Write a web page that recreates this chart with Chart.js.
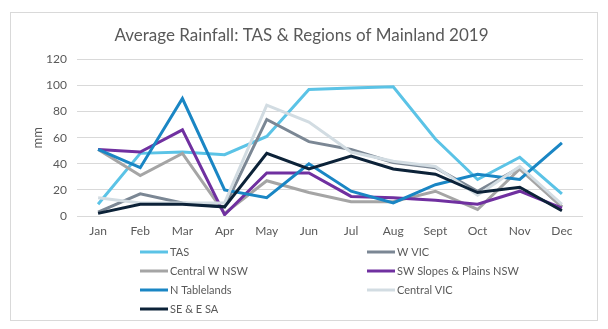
<!DOCTYPE html>
<html>
<head>
<meta charset="utf-8">
<script src="https://cdn.jsdelivr.net/npm/chart.js@4/dist/chart.umd.min.js"></script>
<style>
  html, body { margin: 0; padding: 0; background: #ffffff; }
  #wrap { position: relative; width: 608px; height: 329px; }
  canvas { display: block; }
</style>
</head>
<body>
<div id="wrap"><canvas id="c" width="608" height="329"></canvas></div>
<script>
// Monthly average rainfall (mm), 2019
const months = ['Jan', 'Feb', 'Mar', 'Apr', 'May', 'Jun', 'Jul', 'Aug', 'Sept', 'Oct', 'Nov', 'Dec'];
const yTicks = [0, 20, 40, 60, 80, 100, 120];

const tas          = [9, 48, 49, 47, 61, 97, 98, 99, 59, 28, 45, 17];
const wVic         = [3, 17, 10, 7, 74, 57, 51, 41, 37, 19, 37, 7];
const centralWNsw  = [51, 31, 48, 2, 27, 18, 11, 11, 19, 5, 36, 7];
const swSlopesNsw  = [51, 49, 66, 1, 33, 33, 15, 14, 12, 9, 19, 6];
const nTablelands  = [51, 37, 90, 20, 14, 40, 19, 10, 24, 32, 28, 56];
const centralVic   = [14, 10, 10, 10, 85, 72, 49, 42, 38, 16, 38, 9];
const seESa        = [2, 9, 9, 7, 48, 36, 46, 36, 32, 18, 22, 4];

const seriesNames  = ['TAS', 'W VIC', 'Central W NSW', 'SW Slopes & Plains NSW', 'N Tablelands', 'Central VIC', 'SE & E SA'];
const seriesValues = [tas, wVic, centralWNsw, swSlopesNsw, nTablelands, centralVic, seESa];
const seriesColors = ['#5BC3E6', '#7B8794', '#A5A5A5', '#7030A0', '#1A86C4', '#D2DCE2', '#0C2238'];

const FONT = 'Lato, "Open Sans", sans-serif';
const TEXT = '#595959';

const datasets = seriesNames.map((name, i) => ({
  label: name,
  data: seriesValues[i],
  borderColor: seriesColors[i],
  backgroundColor: seriesColors[i],
  borderWidth: 3,
  pointRadius: 0,
  tension: 0,
  fill: false,
  order: seriesNames.length - i   // later series sit on top
}));

// Outer frame around the whole chart
const framePlugin = {
  id: 'frame',
  beforeDraw(chart) {
    const ctx = chart.ctx;
    ctx.save();
    ctx.fillStyle = '#ffffff';
    ctx.fillRect(0, 0, chart.width, chart.height);
    ctx.strokeStyle = '#D9D9D9';
    ctx.lineWidth = 1;
    ctx.strokeRect(10.5, 12.5, 587, 308);
    ctx.restore();
  }
};

// Two-column legend under the plot
const gridLegendPlugin = {
  id: 'gridLegend',
  afterDraw(chart) {
    const ctx = chart.ctx;
    const colX = [140, 367];
    const rowY0 = 252, rowStep = 19, lineLen = 28;
    ctx.save();
    ctx.font = '11px ' + FONT;
    ctx.textBaseline = 'middle';
    ctx.textAlign = 'left';
    chart.data.datasets.forEach((ds, i) => {
      const x = colX[i % 2];
      const y = rowY0 + Math.floor(i / 2) * rowStep;
      ctx.strokeStyle = ds.borderColor;
      ctx.lineWidth = 3;
      ctx.beginPath();
      ctx.moveTo(x, y);
      ctx.lineTo(x + lineLen, y);
      ctx.stroke();
      ctx.fillStyle = TEXT;
      ctx.fillText(ds.label, x + lineLen + 2, y + 0.5);
    });
    ctx.restore();
  }
};

new Chart(document.getElementById('c'), {
  type: 'line',
  data: { labels: months, datasets },
  plugins: [framePlugin, gridLegendPlugin],
  options: {
    responsive: false,
    animation: false,
    events: [],
    layout: { padding: { left: 20, right: 25, top: 12, bottom: 88 } },
    plugins: {
      legend: { display: false },
      tooltip: { enabled: false },
      title: {
        display: true,
        text: 'Average Rainfall: TAS & Regions of Mainland 2019',
        color: TEXT,
        font: { family: FONT, size: 17, weight: 'normal' },
        padding: { top: 13, bottom: 14 }
      }
    },
    scales: {
      x: {
        offset: true,
        grid: { display: false, drawTicks: false },
        border: { display: false },
        ticks: { color: TEXT, font: { family: FONT, size: 12 }, padding: 8, maxRotation: 0 },
        afterFit(scale) { scale.height = 25; }
      },
      y: {
        min: 0,
        max: 120,
        afterBuildTicks(scale) { scale.ticks = yTicks.map(v => ({ value: v })); },
        grid: { color: '#D9D9D9', lineWidth: 1, drawTicks: false },
        border: { display: false },
        ticks: { color: TEXT, font: { family: FONT, size: 12 }, padding: 10 },
        title: {
          display: true,
          text: 'mm',
          color: TEXT,
          font: { family: FONT, size: 13 },
          padding: { top: 10, bottom: 0 }
        },
        afterFit(scale) { scale.width = 57; }
      }
    }
  }
});
</script>
</body>
</html>
